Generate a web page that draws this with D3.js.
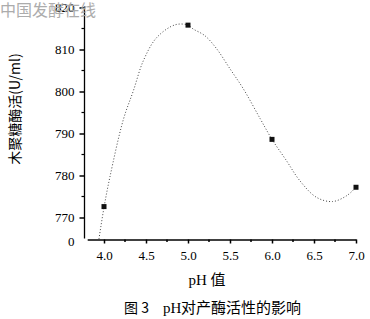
<!DOCTYPE html>
<html><head><meta charset="utf-8">
<script src="https://cdn.jsdelivr.net/npm/d3@7/dist/d3.min.js"></script>
<style>
html,body{margin:0;padding:0;background:#fff;}
svg{display:block;}
</style></head>
<body>
<script>
// Data
const pointPH  = [4.0, 5.0, 6.0, 7.0];
const pointVal = [772.6, 815.8, 788.6, 777.2];
// fitted curve as drawn in the picture (read points)
const curvePH  = [3.94, 4.0, 4.07, 4.23, 4.35, 4.47, 4.63, 4.85, 5.0, 5.06, 5.20, 5.34, 5.5, 5.66, 5.86, 6.0, 6.17, 6.33, 6.53, 6.72, 6.89, 7.0];
const curveVal = [764.9, 772.4, 779.6, 793.3, 800.2, 807.4, 812.9, 815.9, 815.8, 814.9, 813.3, 810.2, 805.4, 800.6, 793.5, 788.6, 783.6, 778.8, 774.8, 773.8, 775.2, 777.2];
const xTicks = [4.0, 4.5, 5.0, 5.5, 6.0, 6.5, 7.0];
const xTickLabels = ["4.0", "4.5", "5.0", "5.5", "6.0", "6.5", "7.0"];
const xMinor = [4.25, 4.75, 5.25, 5.75, 6.25, 6.75];
const yTicks = [770, 780, 790, 800, 810, 820];
const yTickLabels = ["770", "780", "790", "800", "810", "820"];
const yMinor = [775, 785, 795, 805, 815];
const yBreakLabel = "0";
const yTitle = "木聚糖酶活(U/ml)";
const watermark = "中国发酵在线";

const W = 370, H = 319;
const svg = d3.select("body").append("svg").attr("width", W).attr("height", H);

const x = d3.scaleLinear().domain([3.8, 7.0]).range([87.2, 356]);
const y = d3.scaleLinear().domain([770, 820]).range([217.5, 7.5]);
const axisY = 239.5;   // x-axis line position
const axisX = 84.5;    // y-axis line position
const serif = "'Liberation Serif','Times New Roman',serif";
const cjk = "'Noto Sans CJK SC','Noto Sans CJK JP',sans-serif";

// x axis
const gx = svg.append("g").attr("transform", `translate(0,${axisY})`);
gx.call(d3.axisBottom(x).tickValues(xTicks).tickFormat((d,i)=>xTickLabels[i]).tickSizeInner(4).tickSizeOuter(0).tickPadding(7));
gx.select(".domain").attr("stroke", "#000").attr("stroke-width", 1.3);
gx.selectAll(".tick line").attr("stroke", "#000").attr("stroke-width", 1.5);
gx.selectAll(".tick text").attr("font-family", serif).attr("font-size", 13).attr("fill", "#000");
gx.append("g").selectAll("line").data(xMinor).join("line")
  .attr("x1", d => x(d)).attr("x2", d => x(d)).attr("y1", 0).attr("y2", 2.5)
  .attr("stroke", "#000").attr("stroke-width", 1.5);

// y axis
const gy = svg.append("g").attr("transform", `translate(${axisX},0)`);
gy.call(d3.axisLeft(y).tickValues(yTicks).tickFormat((d,i)=>yTickLabels[i]).tickSizeInner(5).tickSizeOuter(0).tickPadding(5));
gy.select(".domain").remove();
gy.append("line").attr("x1", 0).attr("x2", 0).attr("y1", y(820) - 1).attr("y2", axisY - 1)
  .attr("stroke", "#000").attr("stroke-width", 1.3);
gy.selectAll(".tick line").attr("stroke", "#000").attr("stroke-width", 1.5);
gy.selectAll(".tick text").attr("font-family", serif).attr("font-size", 13).attr("fill", "#000");
gy.append("g").selectAll("line").data(yMinor).join("line")
  .attr("x1", -3).attr("x2", 0).attr("y1", d => y(d)).attr("y2", d => y(d))
  .attr("stroke", "#000").attr("stroke-width", 1.2);
gy.append("text").attr("x", -10).attr("y", axisY + 6).attr("text-anchor", "end")
  .attr("font-family", serif).attr("font-size", 13).attr("fill", "#000").text(yBreakLabel);

// curve
const curveData = curvePH.map((p, i) => [p, curveVal[i]]);
svg.append("path").datum(curveData)
  .attr("d", d3.line().x(d => x(d[0])).y(d => y(d[1])).curve(d3.curveCatmullRom.alpha(0.5)))
  .attr("fill", "none").attr("stroke", "#444").attr("stroke-width", 1)
  .attr("stroke-dasharray", "1,2");

// points
svg.append("g").selectAll("rect").data(pointPH.map((p, i) => [p, pointVal[i]])).join("rect")
  .attr("x", d => x(d[0]) - 2.5).attr("y", d => y(d[1]) - 2.5)
  .attr("width", 5).attr("height", 5).attr("fill", "#111");

// axis titles
svg.append("text").attr("x", 207).attr("y", 285).attr("text-anchor", "middle")
  .attr("font-size", 15).attr("fill", "#000")
  .selectAll("tspan").data([["pH ", serif], ["值", cjk]]).join("tspan")
  .attr("font-family", d => d[1]).text(d => d[0]);

svg.append("text").attr("transform", "translate(20,109) rotate(-90)").attr("text-anchor", "middle")
  .attr("font-family", cjk).attr("font-size", 14).attr("fill", "#000").text(yTitle);

// caption
const cap = svg.append("text").attr("y", 313).attr("font-size", 14).attr("fill", "#000");
cap.append("tspan").attr("x", 124).attr("font-family", cjk).text("图 3");
cap.append("tspan").attr("x", 163).attr("font-family", serif).attr("font-size", 15).text("pH");
cap.append("tspan").attr("x", 181).attr("font-family", cjk).attr("font-size", 15).text("对产酶活性的影响");

// watermark
svg.append("text").attr("x", 0).attr("y", 16).attr("font-family", cjk).attr("font-size", 16)
  .attr("fill", "#a8a8a8").attr("opacity", 0.95).text(watermark);
</script>
</body></html>
